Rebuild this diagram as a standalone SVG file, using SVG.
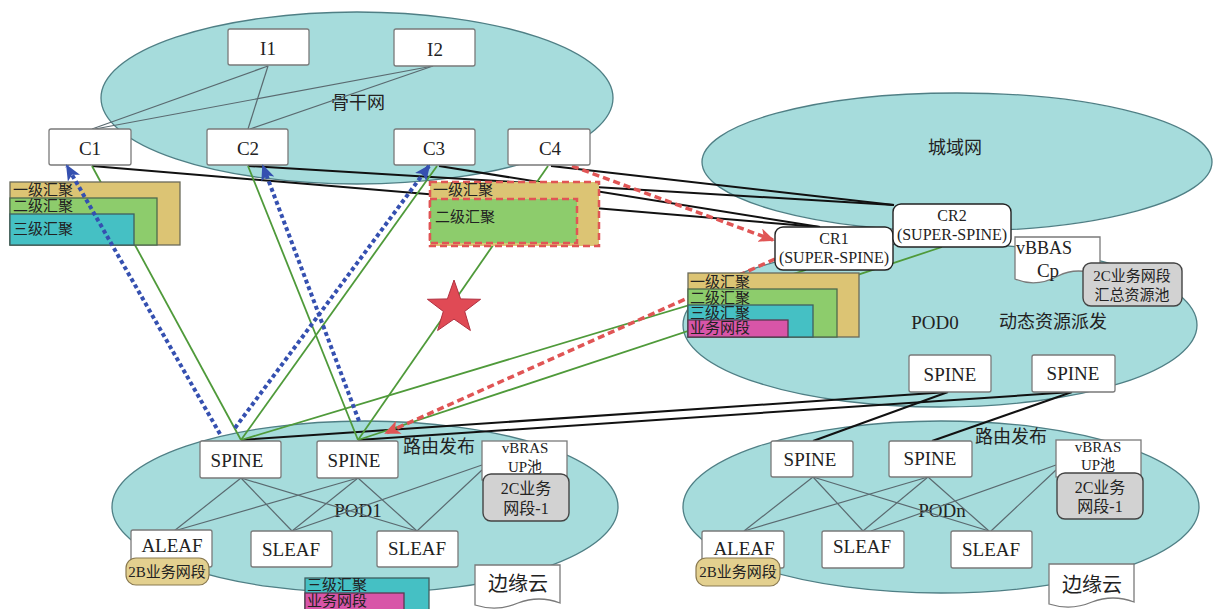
<svg xmlns="http://www.w3.org/2000/svg" width="1215" height="609" viewBox="0 0 1215 609">
<defs>
<style>
.ell{fill:#a6dcdc;stroke:#4f7f85;stroke-width:1.3}
.box{fill:#fff;stroke:#7a7a7a;stroke-width:1.3}
.cr{fill:#fff;stroke:#222;stroke-width:1.4}
.gray{fill:#d2d2d2;stroke:#444;stroke-width:1.4}
.tb{fill:#e3d08f;stroke:#8a7a50;stroke-width:1.2}
.t{font-family:"Liberation Serif","Noto Sans CJK SC",serif;fill:#222;text-anchor:middle;dominant-baseline:central}
.tl{font-family:"Liberation Serif","Noto Sans CJK SC",serif;fill:#222;dominant-baseline:central;font-size:15px}
.f18{font-size:18px}
.f19{font-size:19px}
.f15{font-size:15px}
.f16{font-size:16px}
.f20{font-size:20px}
.g1{fill:#dcc474;stroke:#6a6a5a;stroke-width:1.3}
.g2{fill:#8dcc6c;stroke:#4e6a4e;stroke-width:1.3}
.g3{fill:#45c0c4;stroke:#3f5f60;stroke-width:1.3}
.g4{fill:#d855a8;stroke:#5a3a50;stroke-width:1.3}
.dash1{fill:#dcc474;stroke:#e05555;stroke-width:2.5;stroke-dasharray:7,4}
.dash2{fill:#8dcc6c;stroke:#e05555;stroke-width:2.5;stroke-dasharray:7,4}
.thin{stroke:#5a6a70;stroke-width:1.2;fill:none}
.blk{stroke:#111;stroke-width:2;fill:none}
.grn{stroke:#4f9a3a;stroke-width:1.8;fill:none}
.blue{stroke:#3550b0;stroke-width:4;stroke-dasharray:4,3;fill:none}
.red{stroke:#e05555;stroke-width:3.5;stroke-dasharray:7,4;fill:none}
</style>
<marker id="ab" markerUnits="userSpaceOnUse" markerWidth="16" markerHeight="14" refX="14" refY="7" orient="auto">
<path d="M0,0 L16,7 L0,14 L4,7 z" fill="#3550b0"/>
</marker>
<marker id="ar" markerUnits="userSpaceOnUse" markerWidth="16" markerHeight="14" refX="14" refY="7" orient="auto">
<path d="M0,0 L16,7 L0,14 L4,7 z" fill="#e05555"/>
</marker>
</defs>
<rect width="1215" height="609" fill="#fff"/>

<g id="areas">
<ellipse id="backbone" class="ell" cx="357" cy="98" rx="256" ry="86"/>
<ellipse id="metro" class="ell" cx="957" cy="162" rx="255" ry="69"/>
<ellipse id="pod0" class="ell" cx="940" cy="325" rx="257" ry="82"/>
<ellipse id="pod1" class="ell" cx="365" cy="507" rx="253" ry="86"/>
<ellipse id="podn" class="ell" cx="941" cy="507" rx="258" ry="86"/>
<text class="t f18" x="358" y="103">骨干网</text>
<text class="t f18" x="955" y="148">城域网</text>
<text class="t f19" x="935" y="322">POD0</text>
<text class="t f18" x="1053" y="322">动态资源派发</text>
<text class="t f19" x="358" y="510">POD1</text>
<text class="t f19" x="942" y="510">PODn</text>
<text class="t f18" x="439" y="447">路由发布</text>
<text class="t f18" x="1011" y="437">路由发布</text>
</g>

<g id="connectors">
<line class="thin" x1="268" y1="66" x2="92" y2="129"/>
<line class="thin" x1="268" y1="66" x2="248" y2="129"/>
<line class="thin" x1="433" y1="66" x2="95" y2="129"/>
<line class="thin" x1="433" y1="66" x2="250" y2="129"/>
<line class="thin" x1="241" y1="478" x2="174" y2="531"/>
<line class="thin" x1="241" y1="478" x2="292" y2="531"/>
<line class="thin" x1="241" y1="478" x2="417" y2="531"/>
<line class="thin" x1="358" y1="478" x2="174" y2="531"/>
<line class="thin" x1="358" y1="478" x2="292" y2="531"/>
<line class="thin" x1="358" y1="478" x2="417" y2="531"/>
<line class="thin" x1="482" y1="465" x2="292" y2="531"/>
<line class="thin" x1="482" y1="470" x2="417" y2="531"/>
<line class="thin" x1="813" y1="477" x2="744" y2="531"/>
<line class="thin" x1="813" y1="477" x2="863" y2="531"/>
<line class="thin" x1="813" y1="477" x2="989" y2="531"/>
<line class="thin" x1="928" y1="477" x2="744" y2="531"/>
<line class="thin" x1="928" y1="477" x2="863" y2="531"/>
<line class="thin" x1="928" y1="477" x2="989" y2="531"/>
<line class="thin" x1="1056" y1="465" x2="871" y2="531"/>
<line class="thin" x1="1056" y1="470" x2="991" y2="531"/>
<line class="blk" x1="92" y1="166" x2="820" y2="227"/>
<line class="blk" x1="248" y1="166" x2="894" y2="205"/>
<line class="blk" x1="439" y1="166" x2="820" y2="227"/>
<line class="blk" x1="551" y1="166" x2="894" y2="205"/>
<line class="blk" x1="241" y1="440" x2="948" y2="392"/>
<line class="blk" x1="358" y1="440" x2="1072" y2="392"/>
<line class="blk" x1="948" y1="392" x2="813" y2="441"/>
<line class="blk" x1="1072" y1="392" x2="932" y2="441"/>
<line class="grn" x1="92" y1="166" x2="241" y2="440"/>
<line class="grn" x1="437" y1="166" x2="241" y2="440"/>
<line class="grn" x1="248" y1="166" x2="358" y2="440"/>
<line class="grn" x1="548" y1="166" x2="358" y2="440"/>
<line class="grn" x1="241" y1="440" x2="806" y2="270"/>
<line class="grn" x1="358" y1="440" x2="942" y2="247"/>
<line class="red" x1="572" y1="166" x2="773" y2="240" marker-end="url(#ar)"/>
<line class="red" x1="775" y1="259" x2="386" y2="433" marker-end="url(#ar)"/>
</g>

<g id="agg-left">
<rect class="g1" x="10" y="182" width="170" height="63"/>
<rect class="g2" x="10" y="198" width="147" height="47"/>
<rect class="g3" x="10" y="214" width="124" height="31"/>
<text class="tl" x="13" y="190">一级汇聚</text>
<text class="tl" x="13" y="206">二级汇聚</text>
<text class="tl" x="13" y="229">三级汇聚</text>
</g>

<g id="agg-fault">
<rect class="dash1" x="430" y="182" width="169" height="64"/>
<rect class="dash2" x="430" y="199" width="147" height="44"/>
<text class="tl" x="433" y="190">一级汇聚</text>
<text class="tl" x="435" y="217">二级汇聚</text>
</g>

<g id="agg-pod0">
<rect class="g1" x="688" y="273" width="171" height="64"/>
<rect class="g2" x="688" y="289" width="149" height="48"/>
<rect class="g3" x="688" y="305" width="125" height="32"/>
<rect class="g4" x="688" y="320" width="100" height="17"/>
<text class="tl" x="690" y="282">一级汇聚</text>
<text class="tl" x="690" y="298">二级汇聚</text>
<text class="tl" x="690" y="313">三级汇聚</text>
<text class="tl" x="690" y="328">业务网段</text>
</g>

<g id="agg-pod1">
<rect class="g3" x="305" y="578" width="124" height="34"/>
<rect class="g4" x="305" y="593" width="99" height="19"/>
<text class="tl" x="307" y="585">三级汇聚</text>
<text class="tl" x="307" y="601">业务网段</text>
</g>

<g id="I1"><rect class="box" x="228" y="29" width="81" height="36" rx="2"/><text class="t f19" x="268" y="48">I1</text></g>
<g id="I2"><rect class="box" x="394" y="29" width="81" height="37" rx="2"/><text class="t f19" x="435" y="49">I2</text></g>
<g id="C1"><rect class="box" x="49" y="129" width="82" height="36" rx="2"/><text class="t f19" x="90" y="148">C1</text></g>
<g id="C2"><rect class="box" x="207" y="129" width="81" height="36" rx="2"/><text class="t f19" x="248" y="148">C2</text></g>
<g id="C3"><rect class="box" x="394" y="129" width="81" height="36" rx="2"/><text class="t f19" x="434" y="148">C3</text></g>
<g id="C4"><rect class="box" x="508" y="129" width="82" height="36" rx="2"/><text class="t f19" x="550" y="148">C4</text></g>

<g id="CR1"><rect class="cr" x="775" y="227" width="118" height="43" rx="8"/><text class="t f16" x="834" y="238">CR1</text><text class="t f16" x="834" y="257">(SUPER-SPINE)</text></g>
<g id="CR2"><rect class="cr" x="893" y="204" width="118" height="43" rx="8"/><text class="t f16" x="952" y="215">CR2</text><text class="t f16" x="952" y="234">(SUPER-SPINE)</text></g>

<g id="vBBAS"><path class="box" d="M1015,237 H1100 V276 Q1078,266 1058,276 Q1036,288 1015,279 Z"/><text class="t f18" x="1044" y="248">vBBAS</text><text class="t f19" x="1048" y="270">Cp</text></g>
<g id="pool"><rect class="gray" x="1083" y="263" width="99" height="43" rx="8"/><text class="t f15" x="1132" y="276">2C业务网段</text><text class="t f15" x="1132" y="295">汇总资源池</text></g>

<g id="pod0-spine1"><rect class="box" x="909" y="355" width="82" height="37" rx="2"/><text class="t f19" x="950" y="374">SPINE</text></g>
<g id="pod0-spine2"><rect class="box" x="1032" y="355" width="83" height="37" rx="2"/><text class="t f19" x="1073" y="373">SPINE</text></g>

<g id="pod1-spine1"><rect class="box" x="200" y="441" width="81" height="37" rx="2"/><text class="t f19" x="237" y="460">SPINE</text></g>
<g id="pod1-spine2"><rect class="box" x="317" y="441" width="81" height="37" rx="2"/><text class="t f19" x="354" y="460">SPINE</text></g>
<g id="pod1-vbras"><rect class="box" x="482" y="441" width="85" height="39"/><text class="t f15" x="525" y="448">vBRAS</text><text class="t f15" x="525" y="467">UP池</text></g>
<g id="pod1-2c"><rect class="gray" x="483" y="474" width="86" height="47" rx="8"/><text class="t f16" x="526" y="488">2C业务</text><text class="t f16" x="526" y="508">网段-1</text></g>
<g id="pod1-aleaf"><rect class="box" x="131" y="530" width="81" height="37" rx="2"/><text class="t f19" x="172" y="545">ALEAF</text></g>
<g id="pod1-2b"><rect class="tb" x="126" y="558" width="83" height="27" rx="10"/><text class="t f15" x="167" y="572">2B业务网段</text></g>
<g id="pod1-sleaf1"><rect class="box" x="251" y="531" width="81" height="36" rx="2"/><text class="t f19" x="291" y="549">SLEAF</text></g>
<g id="pod1-sleaf2"><rect class="box" x="377" y="531" width="81" height="36" rx="2"/><text class="t f19" x="417" y="548">SLEAF</text></g>
<g id="pod1-edge"><path class="box" d="M475,565 H560 V603 Q539,595 518,603 Q497,612 475,605 Z"/><text class="t f20" x="518" y="584">边缘云</text></g>

<g id="podn-spine1"><rect class="box" x="771" y="441" width="82" height="36" rx="2"/><text class="t f19" x="810" y="459">SPINE</text></g>
<g id="podn-spine2"><rect class="box" x="889" y="441" width="83" height="36" rx="2"/><text class="t f19" x="930" y="458">SPINE</text></g>
<g id="podn-vbras"><rect class="box" x="1056" y="440" width="85" height="37"/><text class="t f15" x="1098" y="447">vBRAS</text><text class="t f15" x="1098" y="465">UP池</text></g>
<g id="podn-2c"><rect class="gray" x="1057" y="473" width="86" height="46" rx="8"/><text class="t f16" x="1100" y="487">2C业务</text><text class="t f16" x="1100" y="506">网段-1</text></g>
<g id="podn-aleaf"><rect class="box" x="702" y="531" width="82" height="37" rx="2"/><text class="t f19" x="744" y="548">ALEAF</text></g>
<g id="podn-2b"><rect class="tb" x="696" y="558" width="84" height="28" rx="10"/><text class="t f15" x="738" y="572">2B业务网段</text></g>
<g id="podn-sleaf1"><rect class="box" x="822" y="531" width="82" height="37" rx="2"/><text class="t f19" x="862" y="546">SLEAF</text></g>
<g id="podn-sleaf2"><rect class="box" x="951" y="531" width="81" height="37" rx="2"/><text class="t f19" x="991" y="549">SLEAF</text></g>
<g id="podn-edge"><path class="box" d="M1049,564 H1134 V602 Q1113,594 1092,602 Q1071,611 1049,604 Z"/><text class="t f20" x="1092" y="585">边缘云</text></g>

<g id="blue-arrows">
<line class="blue" x1="220" y1="434" x2="67" y2="166" marker-end="url(#ab)"/>
<line class="blue" x1="359" y1="421" x2="263" y2="166" marker-end="url(#ab)"/>
<line class="blue" x1="235" y1="428" x2="429" y2="166" marker-end="url(#ab)"/>
</g>

<g id="star">
<polygon points="454,280 460.6,298.9 480.6,299.3 464.7,311.4 470.4,330.5 454,319.1 437.6,330.5 443.3,311.4 427.4,299.3 447.4,298.9" fill="#e04a55" stroke="#b03040" stroke-width="1"/>
</g>
</svg>
